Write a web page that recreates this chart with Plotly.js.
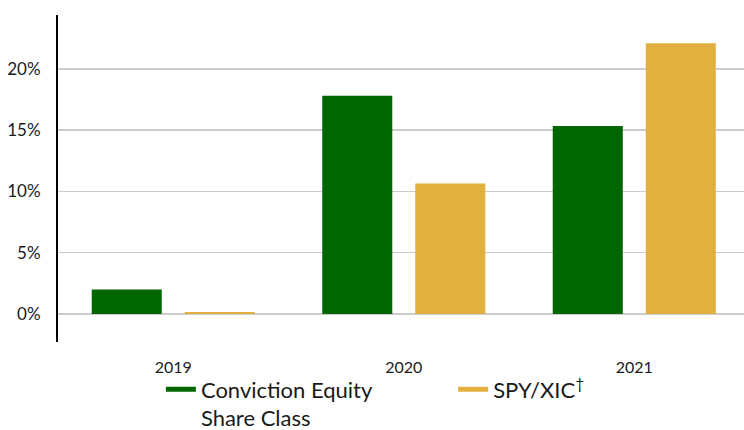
<!DOCTYPE html>
<html>
<head>
<meta charset="utf-8">
<script src="https://cdn.plot.ly/plotly-3.0.1.min.js"></script>
<style>html,body{margin:0;padding:0;background:#fff;}#chart{width:744px;height:430px;}</style>
</head>
<body>
<div id="chart"></div>
<script>
const years = ["2019", "2020", "2021"];
const convictionValues = [2.0, 17.8, 15.35];
const spyXicValues = [0.15, 10.65, 22.1];
const seriesNames = ["Conviction Equity<br>Share Class", "SPY/XIC<sup>†</sup>"];
const seriesColors = ["#006600", "#E2B03E"];
const yTickVals = [0, 5, 10, 15, 20];
const yTickText = ["0%", "5%", "10%", "15%", "20%"];

const traces = [
  {type: "bar", x: years, y: convictionValues, marker: {color: seriesColors[0]}, showlegend: false, hoverinfo: "skip"},
  {type: "bar", x: years, y: spyXicValues, marker: {color: seriesColors[1]}, showlegend: false, hoverinfo: "skip"},
  {type: "scatter", mode: "lines", x: [null], y: [null], name: seriesNames[0], legend: "legend", line: {color: seriesColors[0], width: 5}},
  {type: "scatter", mode: "lines", x: [null], y: [null], name: seriesNames[1], legend: "legend2", line: {color: seriesColors[1], width: 5}}
];

const legendBase = {orientation: "v", xanchor: "left", yanchor: "top", y: -0.081, valign: "top",
  font: {size: 22, color: "#1a1a1a"}, bgcolor: "rgba(0,0,0,0)", borderwidth: 0,
  itemclick: false, itemdoubleclick: false};

const layout = {
  width: 744, height: 430,
  margin: {l: 58, r: 0, t: 15, b: 88, autoexpand: false},
  paper_bgcolor: "#fff", plot_bgcolor: "#fff",
  font: {family: "Lato, 'Open Sans', sans-serif", color: "#1a1a1a"},
  barmode: "group", bargap: 0.193, bargroupgap: 0.247,
  showlegend: true,
  legend: Object.assign({}, legendBase, {x: 0.150}),
  legend2: Object.assign({}, legendBase, {x: 0.576}),
  xaxis: {type: "category", range: [-0.5, 2.476], showgrid: false, zeroline: false, showline: false,
          ticks: "", tickfont: {size: 16, color: "#1a1a1a"}, ticklabelstandoff: 14, fixedrange: true},
  yaxis: {range: [-2.29, 24.4], tickvals: yTickVals, ticktext: yTickText, showgrid: true,
          gridcolor: "#cccccc", gridwidth: 1.5, zeroline: true, zerolinecolor: "#cccccc", zerolinewidth: 1.5,
          showline: true, linecolor: "#000", linewidth: 2, ticks: "", tickfont: {size: 17, color: "#1a1a1a"},
          ticklabelstandoff: 12, fixedrange: true}
};

Plotly.newPlot("chart", traces, layout, {displayModeBar: false, staticPlot: true});
</script>
</body>
</html>
